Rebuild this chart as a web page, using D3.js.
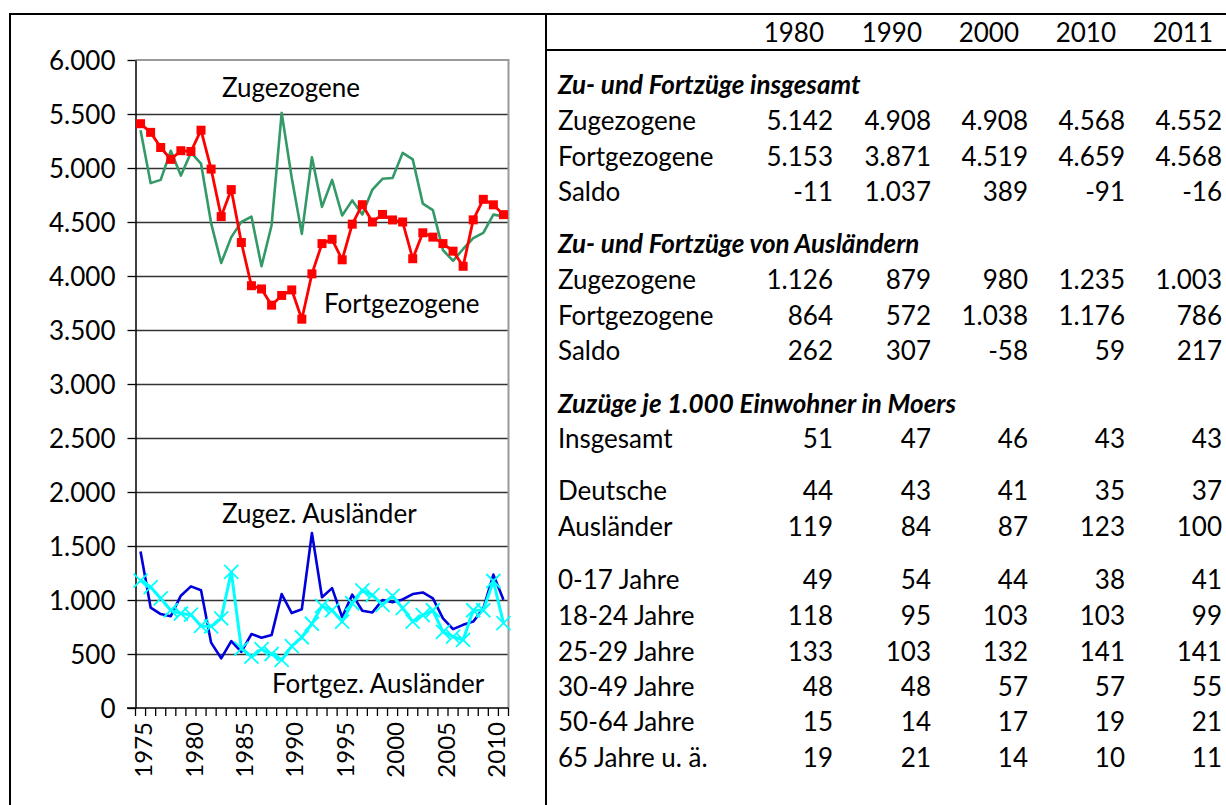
<!DOCTYPE html>
<html>
<head>
<meta charset="utf-8">
<script src="https://cdn.jsdelivr.net/npm/d3@7"></script>
<style>
body { margin: 0; background: #fff; }
svg { display: block; font-family: Lato, sans-serif; }
</style>
</head>
<body>
<svg id="chart" width="1226" height="805"></svg>
<script>
// --- data ---
const years = [1975, 1976, 1977, 1978, 1979, 1980, 1981, 1982, 1983, 1984, 1985, 1986, 1987, 1988, 1989,
    1990, 1991, 1992, 1993, 1994, 1995, 1996, 1997, 1998, 1999, 2000, 2001, 2002, 2003, 2004, 2005,
    2006, 2007, 2008, 2009, 2010, 2011];
const labelYears = [1975, 1980, 1985, 1990, 1995, 2000, 2005, 2010];

const zugezogene = [5350, 4860, 4890, 5160, 4930, 5142, 5040, 4490, 4120, 4360, 4500, 4550, 4090, 4470, 5510,
    4908, 4390, 5100, 4640, 4890, 4560, 4700, 4570, 4800, 4900, 4908, 5140, 5080, 4670, 4610, 4240,
    4140, 4250, 4350, 4400, 4568, 4552];
const fortgezogene = [5410, 5330, 5190, 5080, 5160, 5153, 5350, 4990, 4550, 4800, 4310, 3910, 3880, 3730, 3820,
    3871, 3600, 4020, 4300, 4340, 4150, 4480, 4660, 4500, 4570, 4519, 4500, 4160, 4400, 4360, 4300,
    4230, 4090, 4520, 4710, 4659, 4568];
const zugezAuslaender = [1450, 930, 870, 850, 1040, 1126, 1090, 605, 460, 620, 520, 685, 650, 675, 1055,
    879, 915, 1620, 1025, 1110, 840, 1050, 900, 885, 1000, 980, 1005, 1055, 1070, 1015, 830,
    730, 770, 800, 920, 1235, 1003];
const fortgezAuslaender = [1180, 1120, 1015, 905, 875, 864, 760, 755, 830, 1260, 550, 475, 545, 500, 445,
    572, 655, 780, 945, 905, 800, 970, 1090, 1045, 955, 1038, 925, 800, 860, 905, 705,
    660, 630, 905, 905, 1176, 786];

// table
const tableYears = ['1980', '1990', '2000', '2010', '2011'];
const section1 = 'Zu- und Fortzüge insgesamt';
const section1Labels = ['Zugezogene', 'Fortgezogene', 'Saldo'];
const section1Values = [
    [5142, 4908, 4908, 4568, 4552],
    [5153, 3871, 4519, 4659, 4568],
    [-11, 1037, 389, -91, -16]
];
const section2 = 'Zu- und Fortzüge von Ausländern';
const section2Labels = ['Zugezogene', 'Fortgezogene', 'Saldo'];
const section2Values = [
    [1126, 879, 980, 1235, 1003],
    [864, 572, 1038, 1176, 786],
    [262, 307, -58, 59, 217]
];
const section3 = 'Zuzüge je 1.000 Einwohner in Moers';
const section3Labels = ['Insgesamt', 'Deutsche', 'Ausländer', '0-17 Jahre', '18-24 Jahre', '25-29 Jahre',
    '30-49 Jahre', '50-64 Jahre', '65 Jahre u. ä.'];
const section3Values = [
    [51, 47, 46, 43, 43],
    [44, 43, 41, 35, 37],
    [119, 84, 87, 123, 100],
    [49, 54, 44, 38, 41],
    [118, 95, 103, 103, 99],
    [133, 103, 132, 141, 141],
    [48, 48, 57, 57, 55],
    [15, 14, 17, 19, 21],
    [19, 21, 14, 10, 11]
];

const de = d3.formatLocale({decimal: ',', thousands: '.', grouping: [3], currency: ['', ' €'], minus: '-'});
const fmt = de.format(',d');
const FS = 26;

const svg = d3.select('#chart');

// outer frame + divider
svg.append('path')
    .attr('d', 'M10,810V14H1230')
    .attr('fill', 'none')
    .attr('stroke', '#000')
    .attr('stroke-width', 2);
svg.append('line')
    .attr('x1', 546).attr('x2', 546).attr('y1', 14).attr('y2', 810)
    .attr('stroke', '#000').attr('stroke-width', 2);
svg.append('line')
    .attr('x1', 546).attr('x2', 1230).attr('y1', 50).attr('y2', 50)
    .attr('stroke', '#000').attr('stroke-width', 2);

// --- chart ---
const x = d3.scaleBand().domain(years).range([135.5, 508.5]);
const y = d3.scaleLinear().domain([0, 6000]).range([708, 60]);
const cx = d => x(d) + x.bandwidth() / 2;

// gridlines
svg.append('g')
    .selectAll('line')
    .data(y.ticks(12).filter(d => d > 0 && d < 6000))
    .join('line')
    .attr('x1', 135.5).attr('x2', 508.5)
    .attr('y1', d => Math.round(y(d)) + 0.5)
    .attr('y2', d => Math.round(y(d)) + 0.5)
    .attr('stroke', '#333')
    .attr('stroke-width', 1.3);

// plot border top/right (grey)
svg.append('path')
    .attr('d', `M135.5,${y(6000)}H508.5V${y(0)}`)
    .attr('fill', 'none')
    .attr('stroke', '#999')
    .attr('stroke-width', 2);

// y axis
const yAxis = svg.append('g')
    .attr('transform', 'translate(135.5,0)')
    .call(d3.axisLeft(y).ticks(12).tickSize(8).tickSizeOuter(0).tickPadding(12).tickFormat(fmt));
yAxis.select('.domain').attr('stroke', '#000').attr('stroke-width', 1.5);
yAxis.selectAll('.tick line').attr('stroke', '#000').attr('stroke-width', 1.3);
yAxis.selectAll('.tick text')
    .attr('font-family', 'Lato, sans-serif')
    .attr('font-size', FS)
    .attr('fill', '#000')
    .attr('dy', '0.36em');

// x axis: line, ticks at band edges, rotated labels
const xg = svg.append('g');
xg.append('line')
    .attr('x1', 127).attr('x2', 508.5)
    .attr('y1', y(0)).attr('y2', y(0))
    .attr('stroke', '#000').attr('stroke-width', 1.5);
xg.selectAll('line.tk')
    .data(years.map(d => x(d)).concat([x.range()[1]]))
    .join('line')
    .attr('class', 'tk')
    .attr('x1', d => d).attr('x2', d => d)
    .attr('y1', y(0)).attr('y2', y(0) + 8)
    .attr('stroke', '#000').attr('stroke-width', 1.3);
xg.selectAll('text')
    .data(labelYears)
    .join('text')
    .attr('transform', d => `translate(${cx(d) + 3},722) rotate(-90)`)
    .attr('text-anchor', 'end')
    .attr('dy', '0.36em')
    .attr('font-size', 24)
    .attr('fill', '#000')
    .text(d => d);

// lines
const line = d3.line().x((d, i) => cx(years[i])).y(d => y(d));

svg.append('path')
    .datum(zugezogene)
    .attr('d', line)
    .attr('fill', 'none')
    .attr('stroke', '#339966')
    .attr('stroke-width', 2.6)
    .attr('stroke-linejoin', 'round');

svg.append('path')
    .datum(fortgezogene)
    .attr('d', line)
    .attr('fill', 'none')
    .attr('stroke', '#ff0000')
    .attr('stroke-width', 2.8)
    .attr('stroke-linejoin', 'round');
svg.append('g')
    .selectAll('rect')
    .data(fortgezogene)
    .join('rect')
    .attr('x', (d, i) => cx(years[i]) - 4.5)
    .attr('y', d => y(d) - 4.5)
    .attr('width', 9)
    .attr('height', 9)
    .attr('fill', '#ff0000');

svg.append('path')
    .datum(zugezAuslaender)
    .attr('d', line)
    .attr('fill', 'none')
    .attr('stroke', '#0000dd')
    .attr('stroke-width', 2.6)
    .attr('stroke-linejoin', 'round');

svg.append('path')
    .datum(fortgezAuslaender)
    .attr('d', line)
    .attr('fill', 'none')
    .attr('stroke', '#00ffff')
    .attr('stroke-width', 3)
    .attr('stroke-linejoin', 'round');
svg.append('g')
    .selectAll('path')
    .data(fortgezAuslaender)
    .join('path')
    .attr('transform', (d, i) => `translate(${cx(years[i])},${y(d)})`)
    .attr('d', 'M-7,-7L7,7M-7,7L7,-7')
    .attr('stroke', '#00ffff')
    .attr('stroke-width', 1.8);

// series labels inside the plot
const seriesLabels = [
    {text: 'Zugezogene', x: 222, y: 97},
    {text: 'Fortgezogene', x: 324, y: 313},
    {text: 'Zugez. Ausländer', x: 222, y: 523},
    {text: 'Fortgez. Ausländer', x: 272, y: 693}
];
svg.append('g')
    .selectAll('text')
    .data(seriesLabels)
    .join('text')
    .attr('x', d => d.x)
    .attr('y', d => d.y)
    .attr('font-size', FS)
    .attr('fill', '#000')
    .text(d => d.text);

// --- table ---
const colRight = [833, 931, 1028, 1125, 1222];
const labelX = 558;
const table = svg.append('g').attr('font-size', FS).attr('fill', '#000');

table.selectAll('text.hd')
    .data(tableYears)
    .join('text')
    .attr('class', 'hd')
    .attr('x', (d, i) => colRight[i] - 9)
    .attr('y', 42)
    .attr('text-anchor', 'end')
    .text(d => d);

function section(title, titleY, labels, values, rowYs) {
    table.append('text')
        .attr('x', labelX)
        .attr('y', titleY)
        .attr('font-weight', 'bold')
        .attr('font-style', 'italic')
        .text(title);
    labels.forEach((lab, r) => {
        table.append('text').attr('x', labelX).attr('y', rowYs[r]).text(lab);
        values[r].forEach((v, c) => {
            table.append('text')
                .attr('x', colRight[c])
                .attr('y', rowYs[r])
                .attr('text-anchor', 'end')
                .text(fmt(v));
        });
    });
}

section(section1, 94, section1Labels, section1Values, [130, 165.5, 201]);
section(section2, 253, section2Labels, section2Values, [289, 324.5, 360]);
section(section3, 413, section3Labels, section3Values, [448, 500, 536, 589, 625, 661, 696, 731, 767]);
</script>
</body>
</html>
